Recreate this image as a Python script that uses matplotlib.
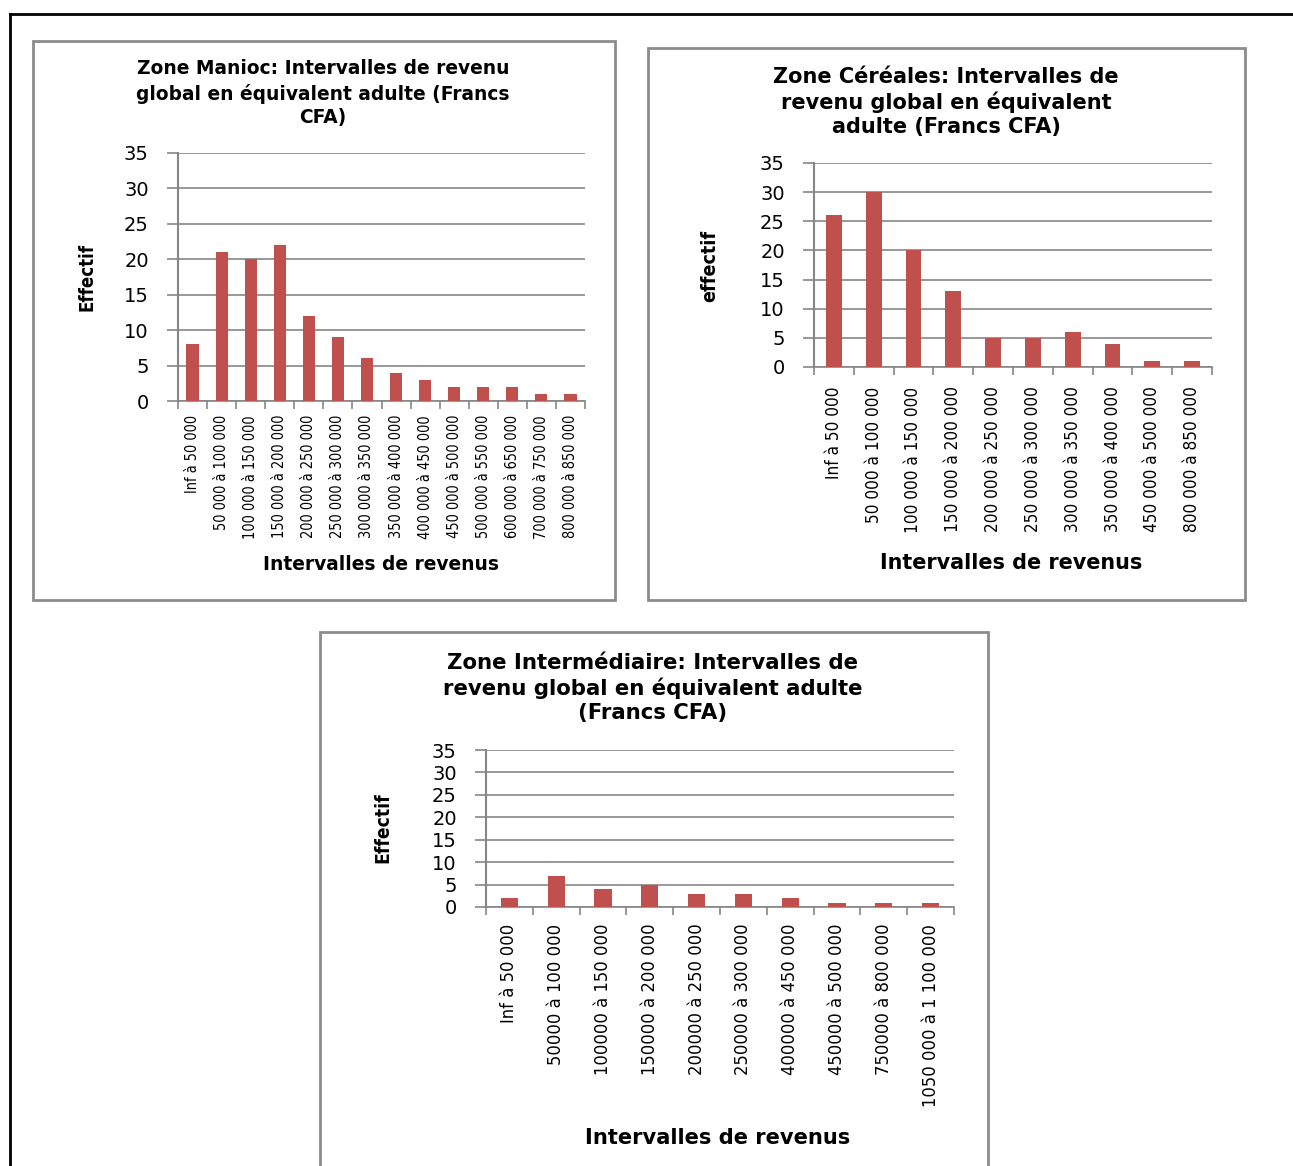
import matplotlib
matplotlib.use("Agg")
import matplotlib.pyplot as plt
from matplotlib import font_manager
from matplotlib.font_manager import FontProperties
from matplotlib.patches import Rectangle
from matplotlib.lines import Line2D

# ---------------- data ----------------
manioc_labels = ["Inf à 50 000", "50 000 à 100 000", "100 000 à 150 000", "150 000 à 200 000",
                 "200 000 à 250 000", "250 000 à 300 000", "300 000 à 350 000", "350 000 à 400 000",
                 "400 000 à 450 000", "450 000 à 500 000", "500 000 à 550 000", "600 000 à 650 000",
                 "700 000 à 750 000", "800 000 à 850 000"]
manioc_values = [8, 21, 20, 22, 12, 9, 6, 4, 3, 2, 2, 2, 1, 1]

cereales_labels = ["Inf à 50 000", "50 000 à 100 000", "100 000 à 150 000", "150 000 à 200 000",
                   "200 000 à 250 000", "250 000 à 300 000", "300 000 à 350 000", "350 000 à 400 000",
                   "450 000 à 500 000", "800 000 à 850 000"]
cereales_values = [26, 30, 20, 13, 5, 5, 6, 4, 1, 1]

inter_labels = ["Inf à 50 000", "50000 à 100 000", "100000 à 150 000", "150000 à 200 000",
                "200000 à 250 000", "250000 à 300 000", "400000 à 450 000", "450000 à 500 000",
                "750000 à 800 000", "1050 000 à 1 100 000"]
inter_values = [2, 7, 4, 5, 3, 3, 2, 1, 1, 1]

y_ticks = [0, 5, 10, 15, 20, 25, 30, 35]

# ---------------- fonts ----------------
def find_condensed(weight_bold):
    best = None
    for f in font_manager.fontManager.ttflist:
        name = f.name.lower()
        stretch = str(f.stretch).lower()
        if f.style != "normal":
            continue
        if not ("condensed" in stretch or "narrow" in name or "condensed" in name):
            continue
        w = f.weight if isinstance(f.weight, int) else (700 if "bold" in str(f.weight) else 400)
        if weight_bold and w < 600:
            continue
        if not weight_bold and (w >= 600 or w < 350):
            continue
        if "extra" in stretch or "ultra" in stretch:
            continue
        if best is None:
            best = f
    return best


_reg = find_condensed(False)
_bold = find_condensed(True)
FP_NARROW = FontProperties(fname=_reg.fname) if _reg else FontProperties(family="DejaVu Sans")
FP_NARROW_B = (FontProperties(fname=_bold.fname) if _bold
               else FontProperties(family="DejaVu Sans", weight="bold"))
FP_BOLD = FontProperties(family="DejaVu Sans", weight="bold")
FP_REG = FontProperties(family="DejaVu Sans")

W, H = 1293, 1166
fig = plt.figure(figsize=(W / 100, H / 100), dpi=100)
fig.patch.set_facecolor("white")
renderer = fig.canvas.get_renderer()

BAR = "#C0504D"
GRID = "#868686"


def fx(x):
    return x / W


def fy(y):
    return 1 - y / H


def fit_size(text, fp, target_px):
    t = fig.text(0, 0, text, fontproperties=fp, fontsize=10)
    w = t.get_window_extent(renderer).width
    t.remove()
    return 10 * target_px / w


# outer border (top + left)
fig.add_artist(Line2D([fx(10), fx(1293)], [fy(14), fy(14)], color="black", lw=2))
fig.add_artist(Line2D([fx(10), fx(10)], [fy(14), fy(1166)], color="black", lw=2))


def panel_box(x0, y0, x1, y1):
    fig.add_artist(Rectangle((fx(x0), fy(y1)), fx(x1) - fx(x0), fy(y0) - fy(y1),
                             transform=fig.transFigure, fill=False,
                             edgecolor="#8c8c8c", lw=2))


def make_chart(box, ax_px, labels, values, title_lines, title_xy, title_w, title_gap,
               xlabel_xy, xlabel_w, ylabel, ylabel_xy, ylabel_len, xtick_len, xtick_pad,
               bar_w):
    panel_box(*box)
    x0, y0, x1, y1 = ax_px
    ax = fig.add_axes([fx(x0), fy(y1), fx(x1) - fx(x0), fy(y0) - fy(y1)])
    n = len(values)
    pos = list(range(n))
    ax.bar(pos, values, width=bar_w, color=BAR, zorder=3)
    ax.set_xlim(-0.5, n - 0.5)
    ax.set_ylim(0, 35)
    ax.set_yticks(y_ticks)
    ax.set_yticklabels([str(t) for t in y_ticks], fontproperties=FP_REG, fontsize=14)
    ax.yaxis.grid(True, color=GRID, lw=1.2, zorder=0)
    ax.tick_params(axis="y", direction="out", length=8, color=GRID, width=1.2, pad=13)
    ax.set_xticks(pos)
    longest = max(labels, key=len)
    xs = fit_size(longest, FP_NARROW, xtick_len)
    ax.set_xticklabels(labels, rotation=90, fontproperties=FP_NARROW, fontsize=xs)
    ax.tick_params(axis="x", which="major", length=0, pad=xtick_pad)
    ax.set_xticks([p - 0.5 for p in pos] + [n - 0.5], minor=True)
    ax.tick_params(axis="x", which="minor", direction="out", length=6, color=GRID, width=1.2)
    for s in ["top", "right"]:
        ax.spines[s].set_visible(False)
    ax.spines["left"].set_color(GRID)
    ax.spines["left"].set_linewidth(1.5)
    ax.spines["bottom"].set_color(GRID)
    ax.spines["bottom"].set_linewidth(1.2)
    # title
    tsize = fit_size(title_lines[0], FP_BOLD, title_w)
    tx, ty = title_xy
    for i, line in enumerate(title_lines):
        fig.text(fx(tx), fy(ty + i * title_gap), line, ha="center", va="center",
                 fontproperties=FP_BOLD, fontsize=tsize)
    xl = "Intervalles de revenus"
    fig.text(fx(xlabel_xy[0]), fy(xlabel_xy[1]), xl, ha="center", va="center",
             fontproperties=FP_BOLD, fontsize=fit_size(xl, FP_BOLD, xlabel_w))
    fig.text(fx(ylabel_xy[0]), fy(ylabel_xy[1]), ylabel, ha="center", va="center",
             rotation=90, fontproperties=FP_NARROW_B,
             fontsize=fit_size(ylabel, FP_NARROW_B, ylabel_len))
    return ax


make_chart(box=(33, 41, 615, 600), ax_px=(178, 153, 585, 401),
           labels=manioc_labels, values=manioc_values,
           title_lines=["Zone Manioc: Intervalles de revenu",
                        "global en équivalent adulte (Francs", "CFA)"],
           title_xy=(323, 69), title_w=372, title_gap=24.5,
           xlabel_xy=(381, 564), xlabel_w=236,
           ylabel="Effectif", ylabel_xy=(87, 277), ylabel_len=68,
           xtick_len=125, xtick_pad=10, bar_w=0.42)

make_chart(box=(648, 48, 1245, 600), ax_px=(814, 163, 1212, 367),
           labels=cereales_labels, values=cereales_values,
           title_lines=["Zone Céréales: Intervalles de",
                        "revenu global en équivalent", "adulte (Francs CFA)"],
           title_xy=(946, 77), title_w=345, title_gap=25,
           xlabel_xy=(1011, 563), xlabel_w=262,
           ylabel="effectif", ylabel_xy=(710, 266), ylabel_len=72,
           xtick_len=147, xtick_pad=14, bar_w=0.4)

make_chart(box=(320, 632, 988, 1175), ax_px=(486, 750, 954, 907),
           labels=inter_labels, values=inter_values,
           title_lines=["Zone Intermédiaire: Intervalles de",
                        "revenu global en équivalent adulte", "(Francs CFA)"],
           title_xy=(653, 663), title_w=412, title_gap=25,
           xlabel_xy=(718, 1138), xlabel_w=266,
           ylabel="Effectif", ylabel_xy=(383, 828), ylabel_len=70,
           xtick_len=183, xtick_pad=12, bar_w=0.37)

fig.savefig("out.png", dpi=100, facecolor="white")
